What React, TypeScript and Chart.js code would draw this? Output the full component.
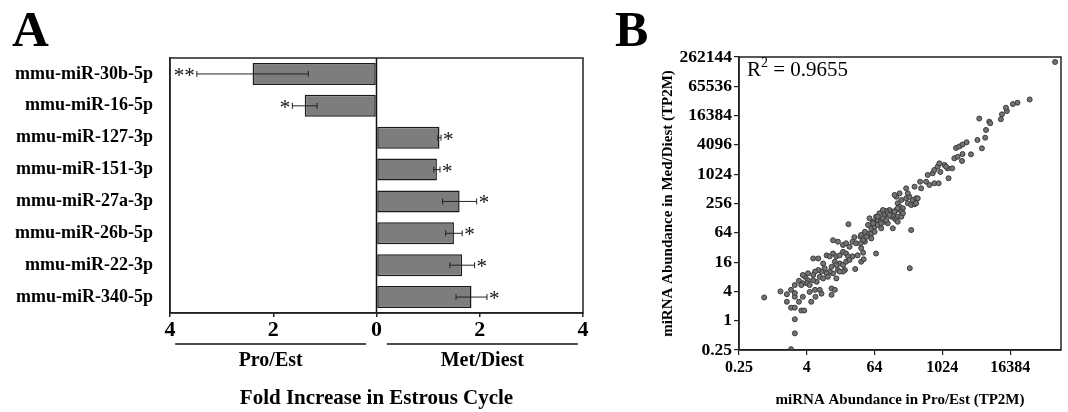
import React, { useEffect, useRef } from 'react';
import { Chart, registerables } from 'chart.js';

Chart.register(...registerables);

const SERIF = "'Liberation Serif', 'Times New Roman', serif";

// ---------- Panel A data ----------
const mirnaLabels = [
  'mmu-miR-30b-5p',
  'mmu-miR-16-5p',
  'mmu-miR-127-3p',
  'mmu-miR-151-3p',
  'mmu-miR-27a-3p',
  'mmu-miR-26b-5p',
  'mmu-miR-22-3p',
  'mmu-miR-340-5p',
];
// negative = higher in Pro/Est, positive = higher in Met/Diest
const foldValues = [-2.4, -1.39, 1.22, 1.17, 1.61, 1.5, 1.66, 1.84];
const foldErrors = [1.08, 0.24, 0.03, 0.06, 0.33, 0.16, 0.24, 0.3];
const significance = ['**', '*', '*', '*', '*', '*', '*', '*'];
const foldTicks = [-4, -2, 0, 2, 4];
const groupLabels = ['Pro/Est', 'Met/Diest'];
const groupSpans = [
  [-3.9, -0.2],
  [0.2, 3.9],
];

// ---------- Panel B data ----------
const proEstTP2M = [
  0.7, 1.36, 1.77, 1.77, 2.1, 2.1, 2.45, 2.45, 2.45, 2.45, 2.45, 2.1, 2.9, 2.45, 2.9,
  5.2, 6.4, 9.0, 10.2, 11.7, 13.4, 15.4, 17.6, 20, 21.6,
  7.8, 8.3, 11, 12.6, 15.4, 17.6, 19, 14.3, 11.7, 10.2,
  9.0, 7.3, 6.4, 5.6, 5.2, 6.8, 7.8, 9.5, 6.0, 5.2,
  4.2, 4.0, 3.4, 3.2, 4.5, 3.7, 3.4, 4.2, 5.6, 4.5,
  6.8, 7.3, 11, 12.6, 13.4, 17.6, 11, 3.4, 3.2, 3.6,
  4.8, 5.7, 17.6, 20, 23, 22, 29, 20, 23, 26,
  32, 37, 41, 14.3, 11.7, 26, 30, 36, 37, 40,
  43, 49, 28, 68, 40, 36, 46, 43, 56, 56,
  56, 155, 191, 233, 266, 305, 351, 249, 286, 328,
  165, 178, 204, 191, 155, 135, 118, 103, 90, 78,
  97, 110, 127, 145, 165, 191, 204, 68, 73, 84,
  97, 110, 60, 52, 49, 64, 73, 84, 64, 37,
  84, 135, 286, 135, 155, 165, 60, 90, 145, 165,
  118, 103, 73, 178, 233, 249, 351, 328, 430, 412,
  527, 604, 737, 881, 145, 374, 563, 690, 737, 845,
  906, 942, 1116, 1270, 1530, 1320, 1670, 1915, 2290, 2335,
  1790, 2048, 2335, 2760, 3300, 4300, 5160, 5900, 6100, 4630,
  6960, 7250, 11200, 11700, 14300, 13800, 18350, 22100, 36400, 103000,
  1190, 13.4, 15.4, 270,
];
const metDiestTP2M = [
  3.0, 4.0, 3.5, 2.45, 4.3, 1.85, 1.85, 3.1, 3.7, 1.07, 0.55, 0.26, 2.45, 5.4, 6.6,
  19, 19, 22, 21, 24, 21, 22, 26, 24, 21,
  15, 12, 12.8, 16.3, 15, 14, 11, 11, 9.4, 10.2,
  9.4, 10.2, 11, 10.2, 8.7, 8.0, 7.4, 8, 6.3, 6.8,
  6.8, 5.9, 5.9, 5.4, 5.4, 8.0, 8.7, 9.4, 4.3, 3.9,
  4.3, 3.6, 4.6, 4.3, 7.4, 10.2, 3.4, 3.1, 1.62, 1.62,
  2.45, 3.1, 36, 39, 33, 96, 11.5, 16.3, 17.7, 21,
  22, 16.3, 18.3, 42, 45, 42, 39, 53, 31, 25,
  42, 62, 52, 24, 45, 39, 53, 67, 62, 49,
  79, 353, 302, 327, 353, 302, 327, 259, 238, 247,
  259, 220, 204, 174, 188, 174, 188, 180, 188, 161,
  149, 161, 137, 127, 137, 137, 161, 137, 117, 117,
  108, 100, 108, 127, 93, 85, 93, 100, 67, 58,
  79, 79, 73, 149, 117, 108, 100, 127, 174, 204,
  149, 117, 137, 414, 525, 414, 259, 567, 525, 717,
  717, 615, 666, 666, 384, 327, 990, 1070, 1250, 1460,
  1710, 1140, 1590, 1350, 1350, 845, 2170, 2330, 1915, 2660,
  3540, 3800, 4170, 4630, 2620, 5170, 3480, 5770, 8300, 14250,
  12300, 11400, 13800, 17400, 20300, 23800, 28300, 30100, 35100, 207000,
  1460, 13.9, 10.2, 12,
];
const xLogTicks = [0.25, 4, 64, 1024, 16384];
const yLogTicks = [0.25, 1, 4, 16, 64, 256, 1024, 4096, 16384, 65536, 262144];
const rSquaredText = '0.9655';

const panelAPlugin = {
  id: 'panelAExtras',
  afterDatasetsDraw(chart: any) {
    const { ctx, chartArea, scales } = chart;
    const x = scales.x;
    const meta = chart.getDatasetMeta(0);
    ctx.save();
    // zero line
    ctx.strokeStyle = '#111';
    ctx.lineWidth = 1.5;
    const x0 = x.getPixelForValue(0);
    ctx.beginPath();
    ctx.moveTo(x0, chartArea.top);
    ctx.lineTo(x0, chartArea.bottom);
    ctx.stroke();
    // error bars + significance
    foldValues.forEach((v, i) => {
      const yc = meta.data[i].y;
      const xa = x.getPixelForValue(v - foldErrors[i]);
      const xb = x.getPixelForValue(v + foldErrors[i]);
      ctx.strokeStyle = '#222';
      ctx.lineWidth = 1;
      ctx.beginPath();
      ctx.moveTo(xa, yc);
      ctx.lineTo(xb, yc);
      ctx.moveTo(xa, yc - 3);
      ctx.lineTo(xa, yc + 3);
      ctx.moveTo(xb, yc - 3);
      ctx.lineTo(xb, yc + 3);
      ctx.stroke();
      ctx.font = `21px ${SERIF}`;
      ctx.fillStyle = '#111';
      ctx.textBaseline = 'alphabetic';
      if (v < 0) {
        ctx.textAlign = 'right';
        ctx.fillText(significance[i], Math.min(xa, xb) - 2, yc + 8);
      } else {
        ctx.textAlign = 'left';
        ctx.fillText(significance[i], Math.max(xa, xb) + 2, yc + 8);
      }
    });
    // frame
    ctx.strokeStyle = '#222';
    ctx.lineWidth = 1.5;
    ctx.strokeRect(chartArea.left, chartArea.top, chartArea.right - chartArea.left, chartArea.bottom - chartArea.top);
    // group underlines and labels
    const lineY = chartArea.bottom + 31;
    ctx.lineWidth = 1.5;
    ctx.strokeStyle = '#111';
    ctx.fillStyle = '#000';
    ctx.font = `bold 20px ${SERIF}`;
    ctx.textAlign = 'center';
    ctx.textBaseline = 'middle';
    groupSpans.forEach((span, i) => {
      const a = x.getPixelForValue(span[0]);
      const b = x.getPixelForValue(span[1]);
      ctx.beginPath();
      ctx.moveTo(a, lineY);
      ctx.lineTo(b, lineY);
      ctx.stroke();
      ctx.fillText(groupLabels[i], (a + b) / 2, lineY + 17);
    });
    ctx.restore();
  },
};

const framePlugin = {
  id: 'frameBox',
  afterDatasetsDraw(chart: any) {
    const { ctx, chartArea } = chart;
    ctx.save();
    ctx.strokeStyle = '#222';
    ctx.lineWidth = 1.5;
    ctx.strokeRect(chartArea.left, chartArea.top, chartArea.right - chartArea.left, chartArea.bottom - chartArea.top);
    ctx.restore();
  },
};

export default function App() {
  const refA = useRef<HTMLCanvasElement>(null);
  const refB = useRef<HTMLCanvasElement>(null);

  useEffect(() => {
    const chartA = new Chart(refA.current as HTMLCanvasElement, {
      type: 'bar',
      data: {
        labels: mirnaLabels,
        datasets: [
          {
            data: foldValues,
            backgroundColor: '#7d7d7d',
            borderColor: '#1a1a1a',
            borderWidth: 1.5,
            borderSkipped: false,
            barPercentage: 0.69,
            categoryPercentage: 1,
          },
        ],
      },
      options: {
        indexAxis: 'y',
        animation: false,
        responsive: false,
        maintainAspectRatio: false,
        layout: { padding: { top: 58, right: 17, bottom: 0, left: 0 } },
        plugins: { legend: { display: false }, tooltip: { enabled: false } },
        scales: {
          x: {
            type: 'linear',
            min: -4,
            max: 4,
            afterBuildTicks: (s: any) => {
              s.ticks = foldTicks.map((v) => ({ value: v }));
            },
            ticks: {
              callback: (v: any) => String(Math.abs(Number(v))),
              font: { family: SERIF, size: 22, weight: 'bold' },
              color: '#000',
              padding: 0,
              maxRotation: 0,
              autoSkip: false,
            },
            grid: { drawOnChartArea: false, drawTicks: true, tickLength: 4, color: '#222', lineWidth: 1.5 },
            border: { display: true, color: '#222', width: 1.5 },
            title: {
              display: true,
              text: 'Fold Increase in Estrous Cycle',
              font: { family: SERIF, size: 21, weight: 'bold' },
              color: '#000',
              padding: { top: 0, bottom: 1 },
            },
            afterFit: (s: any) => {
              s.height = 99;
            },
          },
          y: {
            ticks: {
              font: { family: SERIF, size: 18, weight: 'bold' },
              color: '#000',
              padding: 17,
              autoSkip: false,
            },
            grid: { display: false, drawTicks: false },
            border: { display: true, color: '#222', width: 1.5 },
            afterFit: (s: any) => {
              s.width = 170;
            },
          },
        },
      } as any,
      plugins: [panelAPlugin],
    });

    const points = proEstTP2M.map((xv, i) => ({ x: xv, y: metDiestTP2M[i] }));
    const chartB = new Chart(refB.current as HTMLCanvasElement, {
      type: 'scatter',
      data: {
        datasets: [
          {
            data: points,
            pointRadius: 2.5,
            backgroundColor: '#747474',
            borderColor: '#3a3a3a',
            borderWidth: 1,
          },
        ],
      },
      options: {
        animation: false,
        responsive: false,
        maintainAspectRatio: false,
        layout: { padding: { top: 57, right: 7, bottom: 0, left: 0 } },
        plugins: { legend: { display: false }, tooltip: { enabled: false } },
        scales: {
          x: {
            type: 'logarithmic',
            min: 0.25,
            max: 131072,
            afterBuildTicks: (s: any) => {
              s.ticks = xLogTicks.map((v) => ({ value: v }));
            },
            ticks: {
              callback: (v: any) => String(v),
              font: { family: SERIF, size: 16, weight: 'bold' },
              color: '#000',
              padding: 3,
              maxRotation: 0,
              autoSkip: false,
            },
            grid: { drawOnChartArea: false, drawTicks: true, tickLength: 5, color: '#222', lineWidth: 1.2 },
            border: { display: true, color: '#222', width: 1.5 },
            title: {
              display: true,
              text: 'miRNA Abundance in Pro/Est (TP2M)',
              font: { family: SERIF, size: 15, weight: 'bold' },
              color: '#000',
              padding: { top: 0, bottom: 3 },
            },
            afterFit: (s: any) => {
              s.height = 62;
            },
          },
          y: {
            type: 'logarithmic',
            min: 0.25,
            max: 262144,
            afterBuildTicks: (s: any) => {
              s.ticks = yLogTicks.map((v) => ({ value: v }));
            },
            ticks: {
              callback: (v: any) => String(v),
              font: { family: SERIF, size: 17.5, weight: 'bold' },
              color: '#000',
              padding: 2,
              autoSkip: false,
            },
            grid: { drawOnChartArea: false, drawTicks: true, tickLength: 5, color: '#222', lineWidth: 1.2 },
            border: { display: true, color: '#222', width: 1.5 },
            title: {
              display: true,
              text: 'miRNA Abundance in Med/Diest (TP2M)',
              font: { family: SERIF, size: 15, weight: 'bold' },
              color: '#000',
              padding: { top: 59, bottom: 0 },
            },
            afterFit: (s: any) => {
              s.width = 139;
            },
          },
        },
      } as any,
      plugins: [framePlugin],
    });

    return () => {
      chartA.destroy();
      chartB.destroy();
    };
  }, []);

  return (
    <div
      style={{
        position: 'fixed',
        left: 0,
        top: 0,
        width: 1068,
        height: 412,
        background: '#fff',
        overflow: 'hidden',
        fontFamily: SERIF,
      }}
    >
      <canvas ref={refA} width={600} height={412} style={{ position: 'absolute', left: 0, top: 0 }} />
      <canvas ref={refB} width={468} height={412} style={{ position: 'absolute', left: 600, top: 0 }} />
      <div style={{ position: 'absolute', left: 12, top: 4, fontSize: 51, fontWeight: 'bold', lineHeight: 1, color: '#000' }}>A</div>
      <div style={{ position: 'absolute', left: 615, top: 4, fontSize: 50, fontWeight: 'bold', lineHeight: 1, color: '#000' }}>B</div>
      <div style={{ position: 'absolute', left: 747, top: 59, fontSize: 21, lineHeight: 1, color: '#000', whiteSpace: 'nowrap' }}>
        R<span style={{ fontSize: 14, position: 'relative', top: -9 }}>2</span> = {rSquaredText}
      </div>
    </div>
  );
}
